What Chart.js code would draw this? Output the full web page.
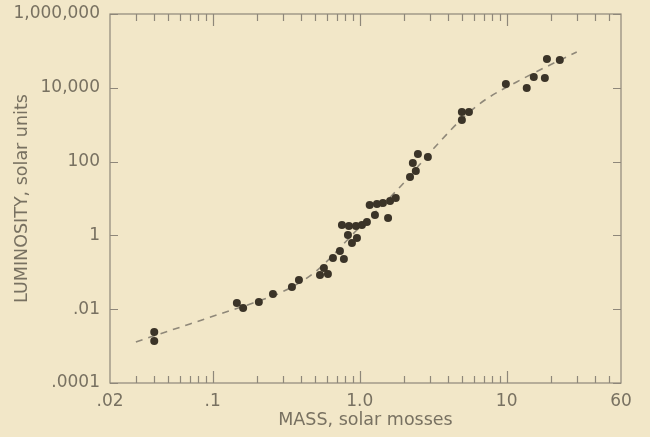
<!DOCTYPE html>
<html>
<head>
<meta charset="utf-8">
<script src="https://cdn.jsdelivr.net/npm/chart.js@4.4.1/dist/chart.umd.min.js"></script>
<style>
  html, body { margin: 0; padding: 0; background: #f2e7c8; }
  #wrap { width: 650px; height: 437px; }
</style>
</head>
<body>
<div id="wrap"><canvas id="mlChart" width="650" height="437"></canvas></div>
<script>
// observed stars: mass (solar masses) and luminosity (solar units)
const starMass = [
  0.040, 0.040,
  0.146, 0.161, 0.206, 0.257, 0.346, 0.386,
  0.537, 0.571, 0.608, 0.658, 0.734, 0.781,
  0.757, 0.845, 0.943, 1.036, 1.12,
  0.832, 0.958, 0.886, 1.27, 1.56,
  1.17, 1.31, 1.44, 1.61, 1.76,
  2.49, 2.91, 2.30, 2.41, 2.20,
  4.96, 5.54, 4.96,
  9.88, 13.7, 15.3, 18.2, 18.8, 23.0
];
const starLum = [
  0.0024, 0.00137,
  0.0147, 0.0108, 0.0157, 0.0258, 0.040, 0.062,
  0.085, 0.131, 0.090, 0.244, 0.378, 0.229,
  1.91, 1.80, 1.80, 1.91, 2.31,
  1.03, 0.85, 0.62, 3.57, 2.96,
  6.66, 7.09, 7.55, 8.55, 10.3,
  161, 133, 92, 56, 38,
  2210, 2210, 1340,
  12700, 9900, 19600, 18400, 60300, 56700
];

// mass-luminosity relation (dashed curve)
const curveMass = [0.030, 0.055, 0.107, 0.188, 0.296, 0.497, 0.958, 1.88, 3.35, 5.20, 7.11, 11.7, 16.8, 30.0];
const curveLum = [0.0013, 0.0029, 0.0070, 0.0147, 0.0292, 0.102, 1.40, 20.5, 282, 1720, 4670, 14400, 30300, 93300];

// axis ticks
const xTickValues = [0.02, 0.1, 1, 10, 60];
const xTickLabels = ['.02', '.1', '1.0', '10', '60'];
const xMajorTicks = [0.1, 1, 10];
const xMinorTicks = [0.03, 0.04, 0.05, 0.06, 0.07, 0.08, 0.09,
  0.2, 0.3, 0.4, 0.5, 0.6, 0.7, 0.8, 0.9,
  2, 3, 4, 5, 6, 7, 8, 9,
  20, 30, 40, 50];
const yTickValues = [1e-4, 1e-2, 1, 1e2, 1e4, 1e6];
const yTickLabels = ['.0001', '.01', '1', '100', '10,000', '1,000,000'];

const inkColor = '#787161';
const axisColor = '#8e877a';
const dotColor = '#3b3428';
const labelFont = { family: 'DejaVu Sans', size: 17 };
const titleFont = { family: 'DejaVu Sans', size: 17.5 };

// frame box + inward tick marks on all four sides
const frameTicks = {
  id: 'frameTicks',
  beforeDatasetsDraw(chart) {
    const { ctx, chartArea: a, scales: { x, y } } = chart;
    ctx.save();
    ctx.strokeStyle = axisColor;
    ctx.lineWidth = 1.2;
    ctx.strokeRect(a.left, a.top, a.right - a.left, a.bottom - a.top);
    ctx.beginPath();
    const xTick = (v, len) => {
      const px = Math.round(x.getPixelForValue(v)) + 0.5;
      ctx.moveTo(px, a.bottom); ctx.lineTo(px, a.bottom - len);
      ctx.moveTo(px, a.top); ctx.lineTo(px, a.top + len);
    };
    xMinorTicks.forEach(v => xTick(v, 7));
    xMajorTicks.forEach(v => xTick(v, 12));
    yTickValues.forEach(v => {
      const py = Math.round(y.getPixelForValue(v)) + 0.5;
      ctx.moveTo(a.left, py); ctx.lineTo(a.left + 8, py);
      ctx.moveTo(a.right, py); ctx.lineTo(a.right - 8, py);
    });
    ctx.stroke();
    ctx.restore();
  }
};

const toPoints = (xs, ys) => xs.map((v, i) => ({ x: v, y: ys[i] }));

new Chart(document.getElementById('mlChart'), {
  type: 'scatter',
  data: {
    datasets: [
      {
        label: 'relation',
        type: 'line',
        data: toPoints(curveMass, curveLum),
        borderColor: '#8f8879',
        borderWidth: 1.6,
        borderDash: [7, 6],
        pointRadius: 0,
        cubicInterpolationMode: 'monotone',
        fill: false,
        order: 2
      },
      {
        label: 'stars',
        data: toPoints(starMass, starLum),
        backgroundColor: dotColor,
        borderColor: dotColor,
        borderWidth: 0,
        pointRadius: 4,
        order: 1
      }
    ]
  },
  options: {
    responsive: false,
    animation: false,
    layout: { padding: { top: 14, right: 29, bottom: 0, left: 0 } },
    plugins: { legend: { display: false }, tooltip: { enabled: false } },
    scales: {
      x: {
        type: 'logarithmic',
        min: 0.02, max: 60,
        afterBuildTicks: s => { s.ticks = xTickValues.map(v => ({ value: v })); },
        afterFit: s => { s.height = 54; s.paddingLeft = 0; s.paddingRight = 0; },
        grid: { display: false, drawTicks: false },
        border: { display: false },
        ticks: {
          autoSkip: false, maxRotation: 0, padding: 8,
          color: inkColor, font: labelFont,
          callback: (v, i) => xTickLabels[i]
        },
        title: {
          display: true, text: 'MASS, solar mosses',
          color: inkColor, font: titleFont,
          padding: { top: 0, bottom: 6 }
        }
      },
      y: {
        type: 'logarithmic',
        min: 1e-4, max: 1e6,
        afterBuildTicks: s => { s.ticks = yTickValues.map(v => ({ value: v })); },
        afterFit: s => { s.width = 110; s.paddingTop = 0; s.paddingBottom = 0; },
        grid: { display: false, drawTicks: false },
        border: { display: false },
        ticks: {
          autoSkip: false, padding: 10,
          color: inkColor, font: labelFont,
          callback: (v, i) => yTickLabels[i]
        },
        title: {
          display: true, text: 'LUMINOSITY, solar units',
          color: inkColor, font: titleFont,
          padding: { top: 12, bottom: 0 }
        }
      }
    }
  },
  plugins: [frameTicks]
});
</script>
</body>
</html>
